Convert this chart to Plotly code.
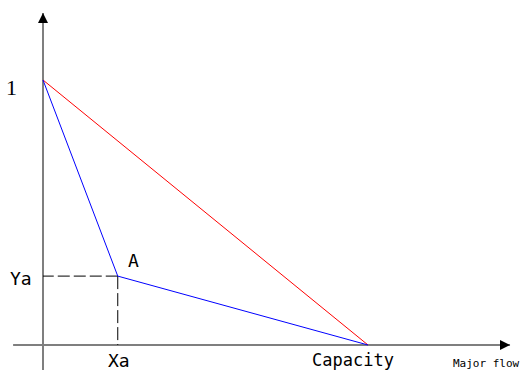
import plotly.graph_objects as go

# data (normalised: capacity = 1 on x, 1 on y)
capacity = 1.0
y_one = 1.0
xa = 0.23
ya = 0.26
red_x = [0.0, capacity]
red_y = [y_one, 0.0]
blue_x = [0.0, xa, capacity]
blue_y = [y_one, ya, 0.0]

# axis extents
x_axis_start, x_axis_end = -0.092, 1.437
y_axis_start, y_axis_end = -0.094, 1.253

W, H = 521, 371
x0_px, cap_px = 43, 368
y0_px, one_px = 345, 80
sx = cap_px - x0_px
sy = y0_px - one_px
x_range = [-x0_px / sx, (W - x0_px) / sx]
y_range = [-(H - y0_px) / sy, y0_px / sy]

fig = go.Figure()
axis_col = "#7f7f7f"
# axes
fig.add_trace(go.Scatter(x=[x_axis_start, x_axis_end], y=[0, 0], mode="lines",
                         line=dict(color=axis_col, width=2), hoverinfo="skip"))
fig.add_trace(go.Scatter(x=[0, 0], y=[y_axis_start, y_axis_end], mode="lines",
                         line=dict(color=axis_col, width=2), hoverinfo="skip"))
# arrowheads
fig.add_trace(go.Scatter(x=[x_axis_end], y=[0], mode="markers",
                         marker=dict(symbol="arrow-right", size=10, color="black",
                                     line=dict(width=0))))
fig.add_trace(go.Scatter(x=[0], y=[y_axis_end], mode="markers",
                         marker=dict(symbol="arrow-up", size=10, color="black",
                                     line=dict(width=0))))
# dashed guides (drawn outward from point A)
fig.add_trace(go.Scatter(x=[xa, 0], y=[ya, ya], mode="lines",
                         line=dict(color="black", width=1, dash="12px,4px")))
fig.add_trace(go.Scatter(x=[xa, xa], y=[ya, 0], mode="lines",
                         line=dict(color="black", width=1, dash="13px,4px")))
# lines
fig.add_trace(go.Scatter(x=red_x, y=red_y, mode="lines", line=dict(color="red", width=1)))
fig.add_trace(go.Scatter(x=blue_x, y=blue_y, mode="lines", line=dict(color="blue", width=1)))

mono = "DejaVu Sans Mono"

def px2x(p):
    return (p - x0_px) / sx

def px2y(p):
    return (y0_px - p) / sy

labels = [
    ("1", 11.5, 87, "Liberation Serif", 22),
    ("Ya", 21, 278, mono, 18),
    ("A", 133.5, 260, mono, 18),
    ("Xa", 119, 360, mono, 18),
    ("Capacity", 353, 360, mono, 17),
    ("Major flow", 486, 363, mono, 11),
]
for t, px, py, fam, sz in labels:
    fig.add_annotation(x=px2x(px), y=px2y(py), text=t, showarrow=False,
                       xanchor="center", yanchor="middle",
                       font=dict(family=fam, size=sz, color="black"))

fig.update_layout(
    width=W, height=H, margin=dict(l=0, r=0, t=0, b=0),
    paper_bgcolor="white", plot_bgcolor="white", showlegend=False,
    xaxis=dict(range=x_range, visible=False, fixedrange=True),
    yaxis=dict(range=y_range, visible=False, fixedrange=True),
)
fig.write_html("out.html", config={"displayModeBar": False},
               post_script="document.body.style.margin='0';document.body.style.overflow='hidden';")
